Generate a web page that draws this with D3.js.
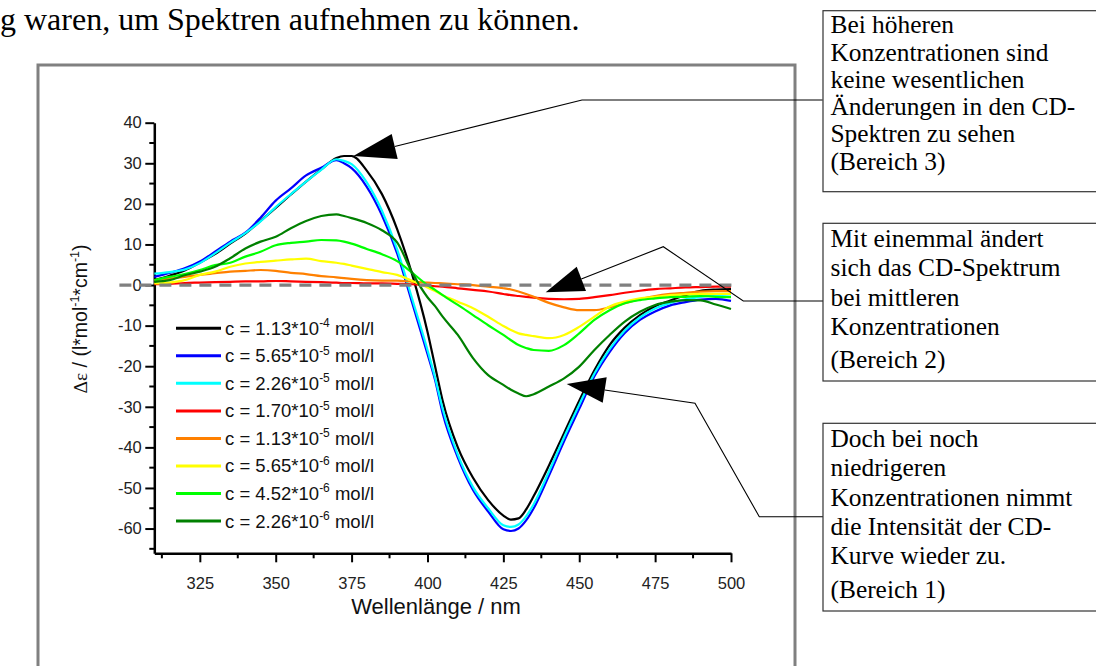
<!DOCTYPE html>
<html>
<head>
<meta charset="utf-8">
<script src="https://cdn.jsdelivr.net/npm/d3@7"></script>
<style>
  body { margin: 0; background: #fff; }
  svg { display: block; }
</style>
</head>
<body>
<svg id="chart" width="1096" height="666"></svg>
<script>
// Wavelength grid (nm) shared by all spectra
const wavelengths = [310,315,320,325,330,335,340,345,350,355,360,365,370,372.5,375,380,385,390,395,400,402.5,405,410,415,420,425,427.5,430,432.5,435,440,445,450,455,460,465,470,475,480,485,490,495,500];

// Δε values for each concentration
const conc113e4 = [1.2,2.3,3.6,5.5,7.6,10.2,12.7,15.8,19.0,22.3,25.5,28.5,31.3,31.8,31.8,28.2,22.4,13.8,2.5,-11.5,-20,-28.5,-40,-47.5,-53,-56.8,-57.8,-57.5,-55.3,-52,-44.5,-36.5,-28.5,-21,-14.8,-10.5,-7.4,-5.2,-3.8,-2.5,-1.4,-1.1,-1.0];
const conc565e5 = [2.0,3.0,4.1,5.8,8.2,10.7,12.9,16.6,20.8,23.8,27.0,28.9,30.8,30.0,28.8,24.2,17.2,7.8,-4.5,-17,-23.4,-31.6,-42.5,-50.5,-55.8,-60.2,-60.6,-60,-58,-55,-47,-38.5,-30.5,-22.5,-16.5,-11.8,-8.6,-6.5,-5.0,-4.2,-3.6,-3.4,-3.9];
const conc226e5 = [2.8,3.2,3.8,5.4,7.8,10.4,12.8,15.7,19.2,22.4,25.5,28.4,31.0,30.6,29.8,25.3,18.3,8.8,-3.5,-16,-22.8,-30.5,-41.8,-49.8,-55,-59.2,-59.6,-59,-57,-54,-46,-37.5,-29.5,-21.8,-15.8,-11.2,-8.0,-5.8,-4.4,-3.5,-2.9,-2.5,-2.3];
const conc170e5 = [0.2,0.3,0.5,0.6,0.7,0.8,0.9,0.9,1.0,0.9,0.8,0.7,0.6,0.5,0.5,0.4,0.4,0.3,0.2,-0.1,-0.3,-0.4,-0.8,-1.2,-1.6,-2.2,-2.5,-2.7,-2.9,-3.1,-3.4,-3.5,-3.4,-3.0,-2.5,-1.9,-1.4,-1.0,-0.8,-0.6,-0.5,-0.4,-0.4];
const conc113e5 = [1.2,1.6,2.0,2.5,2.9,3.3,3.5,3.7,3.5,3.0,2.7,2.2,1.9,1.7,1.5,1.2,1.1,1.1,0.8,0.6,0.5,0.4,0.2,0.0,-0.4,-0.8,-1.1,-1.6,-2.2,-2.9,-4.4,-5.5,-6.2,-6.2,-5.5,-4.5,-3.5,-2.7,-2.2,-1.9,-1.6,-1.5,-1.5];
const conc565e6 = [0.4,0.6,1.2,2.5,3.3,4.5,5.3,5.7,6.0,6.3,6.5,5.9,5.5,5.2,4.8,4.0,3.2,2.5,1.0,-0.6,-1.5,-2.5,-4.1,-5.7,-7.8,-10.1,-11.1,-11.9,-12.3,-12.6,-13.1,-12.3,-10.3,-7.8,-5.3,-4.1,-3.3,-2.9,-2.5,-2.3,-2.2,-2.2,-2.2];
const conc452e6 = [1.2,2.0,2.7,3.7,4.9,5.5,7.0,8.2,9.8,10.4,10.7,11.1,11.0,10.7,10.2,8.9,7.6,5.9,3.0,0.0,-1.2,-2.5,-4.9,-7.4,-9.9,-12.3,-13.6,-14.8,-15.5,-16.0,-16.2,-14.8,-11.9,-8.6,-6.2,-4.5,-3.7,-3.3,-3.0,-2.9,-2.7,-2.9,-3.0];
const conc226e6 = [0.8,1.2,2.4,3.3,4.5,6.6,9.0,10.7,11.9,14.0,15.8,17.0,17.4,17.0,16.5,15.3,13.5,10.5,3.0,-3.0,-5.2,-7.8,-12.3,-18.0,-22.2,-24.6,-25.8,-26.7,-27.4,-26.9,-25.0,-23.0,-20.1,-16.0,-12.3,-9.0,-6.6,-4.9,-4.1,-3.7,-3.8,-4.8,-5.9];

// Legend entries: mantissa and exponent of the concentration
const concMantissa = ["1.13","5.65","2.26","1.70","1.13","5.65","4.52","2.26"];
const concExponent = ["-4","-5","-5","-5","-5","-6","-6","-6"];
const seriesColors = ["#000000","#0000ff","#00ffff","#ff0000","#ff8000","#ffff00","#00ff00","#008000"];
const seriesValues = [conc113e4, conc565e5, conc226e5, conc170e5, conc113e5, conc565e6, conc452e6, conc226e6];

// Axis ticks
const xTickValues = [325,350,375,400,425,450,475,500];
const xMinorTicks = [312.5,337.5,362.5,387.5,412.5,437.5,462.5,487.5];
const yTickValues = [-60,-50,-40,-30,-20,-10,0,10,20,30,40];
const yMinorTicks = [-65,-55,-45,-35,-25,-15,-5,5,15,25,35];

// Side notes (one array of lines per box)
const noteRegion3 = ["Bei höheren","Konzentrationen sind","keine wesentlichen","Änderungen in den CD-","Spektren zu sehen","(Bereich 3)"];
const noteRegion2 = ["Mit einemmal ändert","sich das CD-Spektrum","bei mittleren","Konzentrationen","(Bereich 2)"];
const noteRegion1 = ["Doch bei noch","niedrigeren","Konzentrationen nimmt","die Intensität der CD-","Kurve wieder zu.","(Bereich 1)"];
const pageText = "g waren, um Spektren aufnehmen zu können.";

const svg = d3.select("#chart");
const sans = "'Liberation Sans', Arial, sans-serif";
const serif = "'Liberation Serif', 'Times New Roman', serif";

// Running text of the page above the figure
svg.append("text").attr("x", 0).attr("y", 30)
  .attr("font-family", serif).attr("font-size", 32).attr("fill", "#000")
  .text(pageText);

// Gray frame around the embedded graph
svg.append("rect").attr("x", 38).attr("y", 65).attr("width", 757).attr("height", 700)
  .attr("fill", "none").attr("stroke", "#808080").attr("stroke-width", 3);

const x = d3.scaleLinear().domain([310, 500]).range([154.3, 731]);
const y = d3.scaleLinear().domain([-66.1, 40]).range([553.3, 122.7]);

// Axes (plain hyphen minus, as in the graphing program)
const fmt = d => String(d);
const xAxis = svg.append("g").attr("transform", `translate(0,${y.range()[0]})`)
  .call(d3.axisBottom(x).tickValues(xTickValues).tickFormat(fmt).tickSize(9).tickSizeOuter(0).tickPadding(5));
const yAxis = svg.append("g").attr("transform", `translate(${x.range()[0]},0)`)
  .call(d3.axisLeft(y).tickValues(yTickValues).tickFormat(fmt).tickSize(9).tickSizeOuter(0).tickPadding(3.5));
[xAxis, yAxis].forEach(g => {
  g.select(".domain").attr("stroke", "#000").attr("stroke-width", 2.5);
  g.selectAll(".tick line").attr("stroke", "#000").attr("stroke-width", 2);
  g.selectAll(".tick text").attr("font-family", sans).attr("font-size", 16.5).attr("fill", "#222");
});
xAxis.selectAll(".tick text").attr("dy", "1.33em");
svg.append("g").selectAll("line").data(xMinorTicks).join("line")
  .attr("x1", d => x(d)).attr("x2", d => x(d))
  .attr("y1", y.range()[0]).attr("y2", y.range()[0] + 5)
  .attr("stroke", "#000").attr("stroke-width", 2);
svg.append("g").selectAll("line").data(yMinorTicks).join("line")
  .attr("y1", d => y(d)).attr("y2", d => y(d))
  .attr("x1", x.range()[0]).attr("x2", x.range()[0] - 5)
  .attr("stroke", "#000").attr("stroke-width", 2);

// Axis titles
svg.append("text").attr("x", 436).attr("y", 614).attr("text-anchor", "middle")
  .attr("font-family", sans).attr("font-size", 22).attr("fill", "#111")
  .text("Wellenlänge / nm");
const yTitle = svg.append("text").attr("transform", "translate(87,319) rotate(-90)")
  .attr("text-anchor", "middle").attr("font-family", sans).attr("font-size", 19.5).attr("fill", "#111");
yTitle.append("tspan").attr("font-family", serif).text("Δε");
yTitle.append("tspan").text(" / (l*mol");
yTitle.append("tspan").attr("font-size", 12.5).attr("dy", -8).text("-1");
yTitle.append("tspan").attr("dy", 8).text("*cm");
yTitle.append("tspan").attr("font-size", 12.5).attr("dy", -8).text("-1");
yTitle.append("tspan").attr("dy", 8).text(")");

// Spectra
const line = d3.line().x((d, i) => x(wavelengths[i])).y(d => y(d)).curve(d3.curveMonotoneX);
svg.append("g").selectAll("path").data(seriesValues).join("path")
  .attr("d", d => line(d)).attr("fill", "none")
  .attr("stroke", (d, i) => seriesColors[i]).attr("stroke-width", 2.2)
  .attr("stroke-linejoin", "round");

// Zero reference line
svg.append("line").attr("x1", x(298.5)).attr("x2", x(502.3)).attr("y1", y(0)).attr("y2", y(0))
  .attr("stroke", "#808080").attr("stroke-width", 3.3).attr("stroke-dasharray", "12,8");

// Legend
const legend = svg.append("g");
concMantissa.forEach((m, i) => {
  const ly = 328.3 + i * 27.53;
  legend.append("line").attr("x1", 176).attr("x2", 221).attr("y1", ly).attr("y2", ly)
    .attr("stroke", seriesColors[i]).attr("stroke-width", 3);
  const t = legend.append("text").attr("x", 225).attr("y", ly + 6.5)
    .attr("font-family", sans).attr("font-size", 18.5).attr("fill", "#111");
  t.append("tspan").text(`c = ${m}*10`);
  t.append("tspan").attr("font-size", 12).attr("dy", -7.5).text(concExponent[i]);
  t.append("tspan").attr("dy", 7.5).text(" mol/l");
});

// Callout arrows with leader lines to the notes
const arrows = [
  { head: [[353.3,156],[391.7,134],[397.7,159]], path: [[394.7,146.5],[582,100],[822.7,100]] },
  { head: [[545.7,292.3],[576.7,266.7],[586,291]], path: [[581.3,279],[663.3,246.7],[743.3,301],[823.3,301]] },
  { head: [[566.7,384],[606.7,377.3],[602.7,402.7]], path: [[604.7,390],[695,403.3],[759.3,516.7],[823.3,516.7]] }
];
arrows.forEach(a => {
  svg.append("path").attr("d", d3.line()(a.path)).attr("fill", "none")
    .attr("stroke", "#000").attr("stroke-width", 1.1);
  svg.append("path").attr("d", d3.line()(a.head) + "Z").attr("fill", "#000");
});

// Note boxes
const boxes = [
  { lines: noteRegion3, top: 10.7, bottom: 191.7, baselines: [33.3,60.5,87.8,115,142.3,169.5] },
  { lines: noteRegion2, top: 223.3, bottom: 381, baselines: [246.7,276,305.5,334.5,368] },
  { lines: noteRegion1, top: 423.3, bottom: 611, baselines: [446.7,476,505.5,534.5,563.5,598] }
];
boxes.forEach(b => {
  svg.append("rect").attr("x", 823).attr("y", b.top).attr("width", 300).attr("height", b.bottom - b.top)
    .attr("fill", "#fff").attr("stroke", "#333").attr("stroke-width", 1.2);
  b.lines.forEach((l, i) => {
    svg.append("text").attr("x", 830.5).attr("y", b.baselines[i])
      .attr("font-family", serif).attr("font-size", 25.4).attr("fill", "#000").text(l);
  });
});
</script>
</body>
</html>
